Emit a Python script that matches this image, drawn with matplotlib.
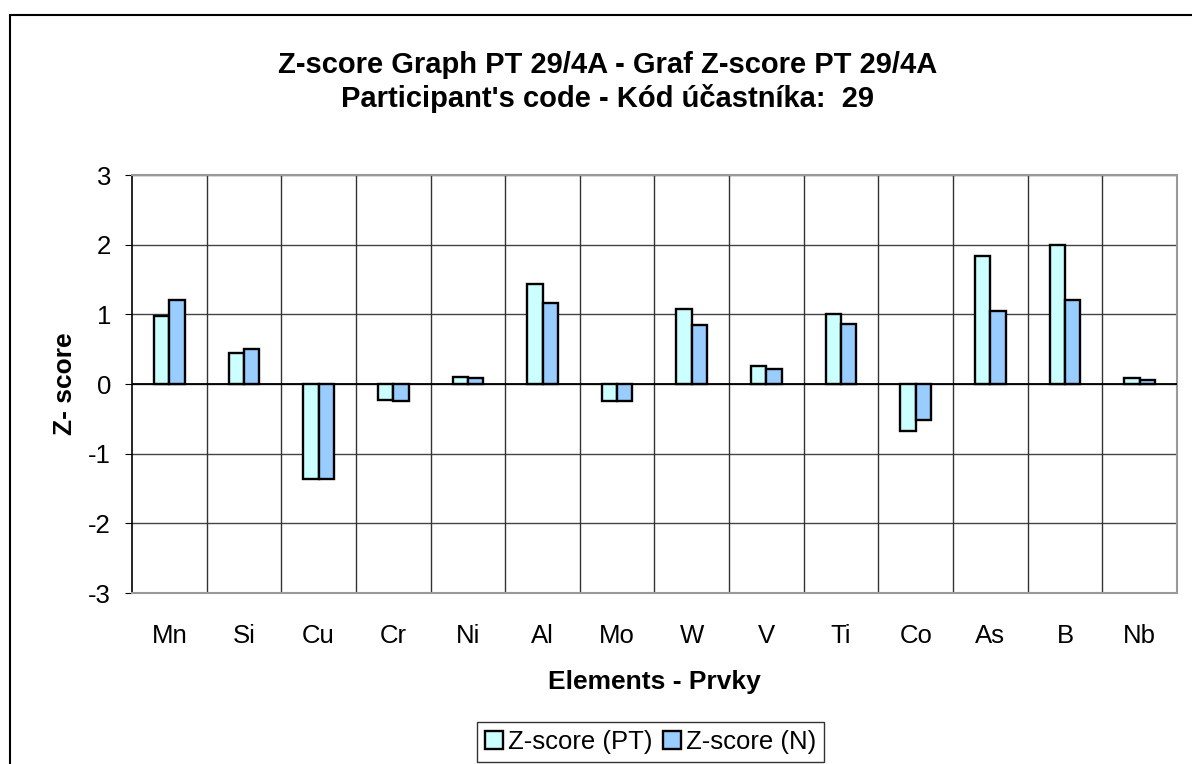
import numpy as np
import matplotlib
matplotlib.use("Agg")
import matplotlib.pyplot as plt
from matplotlib.patches import Rectangle

elements = ["Mn", "Si", "Cu", "Cr", "Ni", "Al", "Mo", "W", "V", "Ti", "Co", "As", "B", "Nb"]
z_pt = [0.97, 0.44, -1.37, -0.23, 0.10, 1.44, -0.25, 1.08, 0.26, 1.01, -0.67, 1.84, 2.00, 0.08]
z_n = [1.21, 0.50, -1.37, -0.24, 0.09, 1.16, -0.25, 0.85, 0.21, 0.86, -0.52, 1.05, 1.21, 0.06]

plt.rcParams['font.family'] = ['Liberation Sans', 'DejaVu Sans']
plt.rcParams['axes.unicode_minus'] = False

fig = plt.figure(figsize=(11.92, 7.64), dpi=100)
ax = fig.add_axes([0.1107, 0.2238, 0.8767, 0.5471])

# outer chart border
fig.patches.append(Rectangle((0.0084, -0.1), 1.1, 1.08, transform=fig.transFigure,
                             fill=False, edgecolor='black', linewidth=1.5))

x = np.arange(len(elements))
w = 0.205
ax.bar(x - w / 2, z_pt, w, color='#CCFFFF', edgecolor='black', linewidth=1.7,
       label='Z-score (PT)', zorder=3)
ax.bar(x + w / 2, z_n, w, color='#99CCFF', edgecolor='black', linewidth=1.7,
       label='Z-score (N)', zorder=3)

ax.set_xlim(-0.5, len(elements) - 0.5)
ax.set_ylim(-3, 3)
ax.set_yticks(range(-3, 4))
ax.set_xticks(x)
ax.set_xticklabels(elements)
ax.tick_params(axis='x', length=0, labelsize=18.5, pad=22)
ax.tick_params(axis='y', length=5, direction='out', labelsize=18.5, pad=10)

# grid
for yy in range(-3, 4):
    ax.axhline(yy, color='#444444', linewidth=1, zorder=1)
for xx in np.arange(0.5, len(elements) - 0.5, 1):
    ax.axvline(xx, color='#333333', linewidth=1, zorder=1)
ax.axhline(0, color='black', linewidth=1.3, zorder=4)

for s in ['top', 'right', 'bottom']:
    ax.spines[s].set_color('#999999')
    ax.spines[s].set_linewidth(1.5)
ax.spines['left'].set_color('black')
ax.spines['left'].set_linewidth(1.2)

ax.set_xlabel("Elements - Prvky", fontsize=19, fontweight='bold', labelpad=16)
ax.set_ylabel("Z- score", fontsize=19, fontweight='bold', labelpad=8)

fig.text(0.51, 0.893, "Z-score Graph PT 29/4A - Graf Z-score PT 29/4A\nParticipant's code - Kód účastníka:  29",
         ha='center', va='center', fontsize=21, fontweight='bold', linespacing=1.2)

leg = fig.legend(loc='center', bbox_to_anchor=(0.546, 0.029), ncol=2, fontsize=18.5,
                 frameon=True, fancybox=False, edgecolor='black', handlelength=0.7,
                 handleheight=0.7, handletextpad=0.2, columnspacing=0.4, borderpad=0.3)
leg.get_frame().set_linewidth(1)

fig.savefig("out.png", dpi=100)
